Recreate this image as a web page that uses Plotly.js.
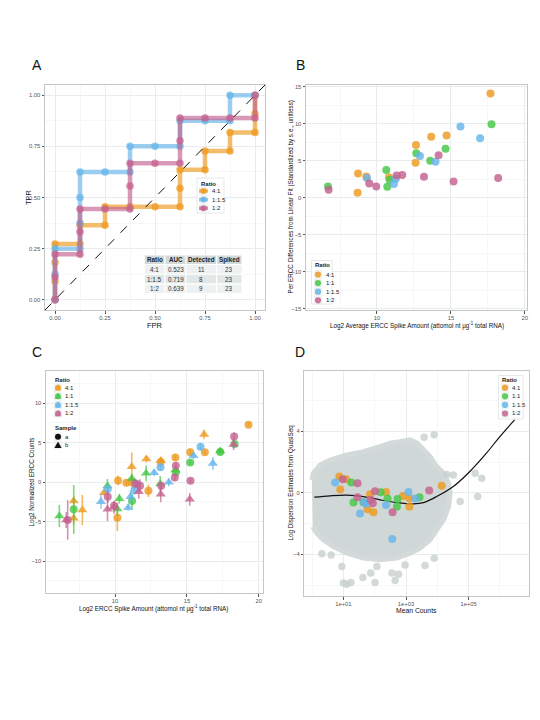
<!DOCTYPE html>
<html><head><meta charset="utf-8">
<script src="https://cdn.plot.ly/plotly-3.0.1.min.js"></script>
<style>html,body{margin:0;padding:0;background:#fff}#chart{width:540px;height:720px}</style>
</head><body><div id="chart"></div>
<script>
// ---------- shared categories / colours ----------
const ratios = ['4:1', '1:1', '1:1.5', '1:2'];
const ratioColors = ['#EE9A1E', '#44C744', '#66B5EA', '#C5628F'];
const samples = ['a', 'b'];

// ---------- Panel A: ROC curves ----------
const rocRatios = ['4:1', '1:1.5', '1:2'];
const roc41FPR = [0,0,0,0,0.125,0.125,0.25,0.25,0.375,0.5,0.625,0.625,0.625,0.75,0.75,0.875,0.875,1,1,1];
const roc41TPR = [0,0.091,0.182,0.273,0.273,0.364,0.364,0.455,0.455,0.455,0.455,0.545,0.636,0.636,0.727,0.727,0.818,0.818,0.909,1];
const roc115FPR = [0,0,0,0.125,0.125,0.125,0.125,0.25,0.375,0.375,0.5,0.625,0.625,0.75,0.875,0.875,1];
const roc115TPR = [0,0.125,0.25,0.25,0.375,0.5,0.625,0.625,0.625,0.75,0.75,0.75,0.875,0.875,0.875,1,1];
const roc12FPR = [0,0,0,0.125,0.125,0.125,0.25,0.375,0.375,0.375,0.5,0.625,0.625,0.625,0.75,0.875,1,1];
const roc12TPR = [0,0.111,0.222,0.222,0.333,0.444,0.444,0.444,0.556,0.667,0.667,0.667,0.778,0.889,0.889,0.889,0.889,1];
const tblHeader = ['Ratio', 'AUC', 'Detected', 'Spiked'];
const tblRatio = ['4:1', '1:1.5', '1:2'];
const tblAUC = ['0.523', '0.719', '0.639'];
const tblDetected = [11, 8, 9];
const tblSpiked = [23, 23, 23];

// ---------- Panel B: differences from linear fit ----------
const b41X = [8.72, 8.69, 9.28, 10.81, 12.64, 12.61, 13.67, 14.71, 17.68];
const b41Y = [3.27, 0.67, 2.87, 2.74, 7.09, 4.71, 8.21, 8.39, 14.04];
const b11X = [6.69, 10.63, 10.70, 10.86, 12.66, 13.60, 14.64, 17.75];
const b11Y = [1.52, 3.72, 1.48, 2.42, 6.01, 4.98, 6.59, 9.91];
const b115X = [9.32, 11.15, 11.28, 12.91, 13.96, 15.65, 16.98];
const b115Y = [2.65, 1.84, 2.56, 5.61, 4.84, 9.60, 8.03];
const b12X = [6.73, 9.48, 9.95, 11.33, 11.71, 13.18, 14.17, 15.18, 18.20];
const b12Y = [1.08, 1.93, 1.52, 3.00, 3.05, 2.83, 5.74, 2.20, 2.65];

// ---------- Panel C: normalized counts vs spike amount ----------
const c41aX = [10.21, 10.16, 10.79, 11.16, 12.32, 13.18, 14.20, 15.23, 16.25, 19.29];
const c41aY = [0.21, -4.51, -0.08, -0.04, -1.10, 2.53, 3.12, 3.76, 3.76, 7.26];
const c41aE = [0.6, 1.7, 0.4, 0.8, 0.8, 0.5, 0.4, 0.5, 0.3, 0.3];
const c41bX = [7.12, 7.12, 7.72, 9.23, 11.16, 12.18, 13.18, 16.20];
const c41bY = [-2.40, -4.60, -3.54, -1.35, 1.94, 2.91, 2.70, 6.03];
const c41bE = [0.6, 0.8, 1.9, 0.4, 1.8, 0.4, 0.5, 0.6];
const c11aX = [7.12, 11.18, 14.23, 15.23, 17.32, 18.32];
const c11aY = [-3.46, -2.41, 1.22, 2.49, 3.80, 4.81];
const c11aE = [3.1, 1.0, 0.5, 0.3, 0.3, 0.3];
const c11bX = [6.12, 9.47, 10.16, 10.30, 11.16, 12.16, 13.14, 14.20, 17.32];
const c11bY = [-4.30, -0.51, -3.42, -2.11, 0.46, 1.10, -0.25, 1.52, 3.92];
const c11bE = [1.4, 0.9, 0.8, 0.6, 0.6, 1.0, 1.0, 0.5, 0.4];
const c115aX = [9.49, 11.35, 11.51, 13.16, 15.95];
const c115aY = [-0.89, -1.01, -0.25, 1.86, 4.47];
const c115aE = [0.4, 0.6, 0.5, 0.4, 0.4];
const c115bX = [9.02, 10.91, 11.07, 12.72, 13.74, 15.46, 16.81];
const c115bY = [-2.49, -3.25, -1.86, 1.18, -0.04, 3.33, 2.36];
const c115bE = [0.9, 0.4, 0.8, 0.4, 0.5, 0.4, 0.8];
const c12aX = [6.70, 9.49, 9.93, 11.42, 11.74, 13.21, 14.16, 14.23, 15.25, 18.29];
const c12aY = [-4.81, -1.86, -3.00, -0.17, -0.46, -0.46, 0.59, 2.07, 0.17, 5.78];
const c12aE = [2.5, 0.8, 0.6, 0.6, 0.8, 0.5, 0.4, 0.4, 0.3, 0.5];
const c12bX = [6.60, 9.47, 9.93, 11.65, 13.18, 15.20, 18.25];
const c12bY = [-4.81, -3.46, -3.20, -1.22, -1.56, -2.19, 4.77];
const c12bE = [1.0, 1.5, 0.8, 0.9, 1.0, 0.8, 0.7];

// ---------- Panel D: dispersion vs mean counts (x = log10 mean counts) ----------
const dTickVals = [1, 3, 5];
const dTickText = ['1e+01', '1e+03', '1e+05'];
const cloudX = [-0.01,0.04,0.26,0.57,1.11,1.64,2.17,2.49,2.81,3.13,3.35,3.56,3.77,3.98,4.20,4.36,4.41,4.36,4.20,3.98,3.77,3.45,3.13,2.70,2.17,1.64,1.11,0.68,0.36,0.15,0.02];
const cloudY = [0.84,1.28,1.82,2.14,2.47,2.68,3.01,3.23,3.33,3.44,3.23,2.79,2.36,1.71,1.28,0.63,-0.02,-0.89,-1.75,-2.40,-3.05,-3.59,-3.92,-4.24,-4.35,-4.24,-3.92,-3.49,-3.05,-2.62,-2.19];
const outlierX = [3.58,3.90,5.21,5.42,5.29,4.73,4.51,0.31,0.61,0.95,1.00,1.11,1.24,1.62,1.87,2.01,2.07,2.55,2.65,2.76,2.97,3.61,3.90,4.30];
const outlierY = [3.61,3.77,1.28,0.95,-0.24,-0.56,1.17,-3.96,-4.03,-4.78,-5.86,-5.93,-5.82,-5.50,-5.20,-5.82,-4.78,-5.20,-5.70,-5.28,-4.68,-4.72,-4.24,1.20];
const fitX = [0.07,0.575,1.11,1.64,2.17,2.71,3.24,3.56,3.98,4.51,5.04,5.57,6.00,6.47];
const fitY = [-0.28,-0.19,-0.15,-0.24,-0.45,-0.63,-0.71,-0.63,-0.24,0.41,1.39,2.58,3.66,4.74];
const d41X = [0.87,1.09,0.90,1.77,1.96,1.85,2.36,2.90,3.11,3.11,4.14];
const d41Y = [1.06,0.89,0.22,-1.06,-1.25,-0.09,0.06,-0.21,-0.35,-0.89,0.47];
const d11X = [1.25,1.32,1.64,2.19,2.41,2.73,2.71,3.43];
const d11Y = [0.67,-0.63,-0.61,0.04,-0.37,-0.39,-0.89,-0.28];
const d115X = [0.735,1.66,1.53,1.72,2.36,3.08,3.30,2.56];
const d115Y = [0.67,-0.61,-1.34,-0.71,-0.78,0.06,-0.37,-2.99];
const d12X = [0.98,1.45,1.45,1.87,1.94,2.01,2.57,3.74];
const d12Y = [0.89,0.63,-0.28,-0.45,-0.67,0.11,-1.25,0.15];

// ---------- helpers ----------
const W = 540, H = 720;
const FONT = 'Liberation Sans, Arial, sans-serif';
const px = v => v / W;
const py = v => 1 - v / H;
function rgba(hex, a) {
  const n = parseInt(hex.slice(1), 16);
  return `rgba(${(n >> 16) & 255},${(n >> 8) & 255},${n & 255},${a})`;
}
function colorOf(r) { return ratioColors[ratios.indexOf(r)]; }

function axis(domain, range, tickvals, ticktext, minorVals, anchor) {
  return {
    domain, range, anchor, tickmode: 'array', tickvals, ticktext,
    showgrid: true, gridcolor: '#e9ecec', gridwidth: 1, zeroline: false,
    showline: true, mirror: true, linecolor: '#c2c8c8', linewidth: 1,
    ticks: 'outside', ticklen: 2.5, tickcolor: '#555', tickwidth: 1,
    tickfont: { family: FONT, size: 5.8, color: '#555' },
    minor: { tickvals: minorVals, showgrid: true, gridcolor: '#f4f6f6', gridwidth: 0.8, ticks: '' },
    fixedrange: true
  };
}

const traces = [];
const shapes = [];
const annotations = [];

// ---------- Panel A traces ----------
const rocData = { '4:1': [roc41FPR, roc41TPR], '1:1.5': [roc115FPR, roc115TPR], '1:2': [roc12FPR, roc12TPR] };
rocRatios.forEach(r => {
  traces.push({
    type: 'scatter', mode: 'lines+markers', xaxis: 'x', yaxis: 'y',
    x: rocData[r][0], y: rocData[r][1], showlegend: false, hoverinfo: 'skip',
    line: { color: rgba(colorOf(r), 0.65), width: 4.5 },
    marker: { color: rgba(colorOf(r), 0.75), size: 7.5, line: { width: 0 } }
  });
});
// diagonal reference line
shapes.push({ type: 'line', xref: 'x', yref: 'y', x0: -0.05, y0: -0.05, x1: 1.05, y1: 1.05,
  line: { color: '#111', width: 1, dash: 'dash' } });

// summary table drawn as layout cells
const tblColEdges = [144.3, 165, 186, 216.7, 242];
const tblRowEdges = [255, 264.5, 274.3, 284, 293.5];
const tblCols = [tblRatio, tblAUC, tblDetected, tblSpiked];
const rowFill = ['#eef1f1', '#e1e6e6', '#eef1f1'];
for (let c = 0; c < tblHeader.length; c++) {
  const x0 = tblColEdges[c], x1 = tblColEdges[c + 1];
  for (let r = 0; r <= tblRatio.length; r++) {
    const y0 = tblRowEdges[r], y1 = tblRowEdges[r + 1];
    shapes.push({ type: 'rect', xref: 'paper', yref: 'paper', x0: px(x0), x1: px(x1), y0: py(y1), y1: py(y0),
      fillcolor: r === 0 ? '#d3d9d9' : rowFill[r - 1], line: { color: '#ffffff', width: 1 }, layer: 'above' });
    const txt = r === 0 ? '<b>' + tblHeader[c] + '</b>' : String(tblCols[c][r - 1]);
    annotations.push({ xref: 'paper', yref: 'paper', x: px((x0 + x1) / 2), y: py((y0 + y1) / 2),
      xanchor: 'center', yanchor: 'middle', text: txt, showarrow: false,
      font: { family: FONT, size: 6.3, color: r === 0 ? '#222' : '#333' } });
  }
}

// ---------- Panel B traces ----------
const bData = [[b41X, b41Y], [b11X, b11Y], [b115X, b115Y], [b12X, b12Y]];
ratios.forEach((r, i) => {
  traces.push({
    type: 'scatter', mode: 'markers', xaxis: 'x2', yaxis: 'y2', x: bData[i][0], y: bData[i][1],
    showlegend: false, hoverinfo: 'skip',
    marker: { color: rgba(ratioColors[i], 0.82), size: 8, line: { width: 0 } }
  });
});

// ---------- Panel C traces ----------
const cData = [
  [[c41aX, c41aY, c41aE], [c41bX, c41bY, c41bE]],
  [[c11aX, c11aY, c11aE], [c11bX, c11bY, c11bE]],
  [[c115aX, c115aY, c115aE], [c115bX, c115bY, c115bE]],
  [[c12aX, c12aY, c12aE], [c12bX, c12bY, c12bE]]
];
ratios.forEach((r, i) => {
  samples.forEach((s, j) => {
    const d = cData[i][j];
    traces.push({
      type: 'scatter', mode: 'markers', xaxis: 'x3', yaxis: 'y3', x: d[0], y: d[1],
      showlegend: false, hoverinfo: 'skip',
      error_y: { type: 'data', array: d[2], visible: true, width: 0, thickness: 1.6, color: rgba(ratioColors[i], 0.7) },
      marker: { color: rgba(ratioColors[i], 0.8), size: j === 0 ? 8 : 9,
        symbol: j === 0 ? 'circle' : 'triangle-up', line: { width: 0 } }
    });
  });
});

// ---------- Panel D traces ----------
traces.push({
  type: 'scatter', mode: 'lines', xaxis: 'x4', yaxis: 'y4', x: cloudX, y: cloudY,
  fill: 'toself', fillcolor: 'rgb(208,215,215)', showlegend: false, hoverinfo: 'skip',
  line: { color: 'rgb(212,218,218)', width: 5 }
});
traces.push({
  type: 'scatter', mode: 'markers', xaxis: 'x4', yaxis: 'y4', x: outlierX, y: outlierY,
  showlegend: false, hoverinfo: 'skip',
  marker: { color: 'rgba(200,208,208,0.8)', size: 7.5, line: { width: 0 } }
});
traces.push({
  type: 'scatter', mode: 'lines', xaxis: 'x4', yaxis: 'y4', x: fitX, y: fitY,
  showlegend: false, hoverinfo: 'skip',
  line: { color: '#111', width: 1.2, shape: 'spline', smoothing: 1 }
});
const dData = [[d41X, d41Y], [d11X, d11Y], [d115X, d115Y], [d12X, d12Y]];
ratios.forEach((r, i) => {
  traces.push({
    type: 'scatter', mode: 'markers', xaxis: 'x4', yaxis: 'y4', x: dData[i][0], y: dData[i][1],
    showlegend: false, hoverinfo: 'skip',
    marker: { color: rgba(ratioColors[i], 0.82), size: 8, line: { width: 0 } }
  });
});

// ---------- manual legends (ggplot style compact keys) ----------
function keyBox(cx, cy) {
  shapes.push({ type: 'rect', xref: 'paper', yref: 'paper', xsizemode: 'pixel', ysizemode: 'pixel',
    xanchor: px(cx), yanchor: py(cy), x0: -4.2, x1: 4.2, y0: -4.2, y1: 4.2,
    fillcolor: '#f1f3f3', line: { width: 0 }, layer: 'above' });
}
function keyCircle(cx, cy, col, r) {
  shapes.push({ type: 'circle', xref: 'paper', yref: 'paper', xsizemode: 'pixel', ysizemode: 'pixel',
    xanchor: px(cx), yanchor: py(cy), x0: -r, x1: r, y0: -r, y1: r,
    fillcolor: col, line: { width: 0 }, layer: 'above' });
}
function keyTriangle(cx, cy, col) {
  shapes.push({ type: 'path', xref: 'paper', yref: 'paper', xsizemode: 'pixel', ysizemode: 'pixel',
    xanchor: px(cx), yanchor: py(cy), path: 'M-3.6,-2.8 L3.6,-2.8 L0,3.6 Z',
    fillcolor: col, line: { width: 0 }, layer: 'above' });
}
function keyLine(cx, cy, col) {
  shapes.push({ type: 'line', xref: 'paper', yref: 'paper', xsizemode: 'pixel', ysizemode: 'pixel',
    xanchor: px(cx), yanchor: py(cy), x0: -4.5, x1: 4.5, y0: 0, y1: 0,
    line: { color: col, width: 3.5 }, layer: 'above' });
}
function legText(x, y, t, bold) {
  annotations.push({ xref: 'paper', yref: 'paper', x: px(x), y: py(y), xanchor: 'left', yanchor: 'middle',
    text: bold ? '<b>' + t + '</b>' : t, showarrow: false,
    font: { family: FONT, size: 6, color: '#222' } });
}
function legBox(x0, y0, x1, y1) {
  shapes.push({ type: 'rect', xref: 'paper', yref: 'paper', x0: px(x0), x1: px(x1), y0: py(y1), y1: py(y0),
    fillcolor: '#ffffff', line: { color: '#dfe3e3', width: 0.8 }, layer: 'above' });
}

// Legend A
legBox(197, 178, 224, 213);
legText(198.5, 183.5, 'Ratio', true);
rocRatios.forEach((r, i) => {
  const y = 191 + i * 8.6;
  keyBox(203.5, y);
  keyLine(203.5, y, rgba(colorOf(r), 0.7));
  keyCircle(203.5, y, rgba(colorOf(r), 0.85), 3);
  legText(209.5, y, r, false);
});
// Legend B
legBox(311.5, 260.5, 332, 304);
legText(312.5, 265, 'Ratio', true);
ratios.forEach((r, i) => {
  const y = 274.5 + i * 8.6;
  keyBox(318, y);
  keyCircle(318, y, rgba(ratioColors[i], 0.85), 3.1);
  legText(324, y, r, false);
});
// Legend C (Ratio)
legText(52.5, 379.5, 'Ratio', true);
ratios.forEach((r, i) => {
  const y = 387.7 + i * 8.6;
  keyBox(58, y);
  keyCircle(58, y, rgba(ratioColors[i], 0.8), 3);
  keyTriangle(58, y, rgba(ratioColors[i], 0.6));
  legText(62.5, y, r, false);
});
// Legend C (Sample)
legText(53, 428.3, 'Sample', true);
samples.forEach((s, j) => {
  const y = 436.7 + j * 8.4;
  keyBox(58, y);
  if (j === 0) keyCircle(58, y, '#111', 3); else keyTriangle(58, y, '#111');
  legText(62.5, y, s, false);
});
// Legend D
legBox(498.5, 375.5, 523, 419);
legText(500, 379.5, 'Ratio', true);
ratios.forEach((r, i) => {
  const y = 387.7 + i * 8.6;
  keyBox(505, y);
  keyCircle(505, y, rgba(ratioColors[i], 0.85), 3.1);
  legText(509.5, y, r, false);
});

// ---------- panel letters & axis titles ----------
function label(x, y, t, size, angle) {
  annotations.push({ xref: 'paper', yref: 'paper', x: px(x), y: py(y), xanchor: 'center', yanchor: 'middle',
    text: t, showarrow: false, textangle: angle || 0, font: { family: FONT, size, color: '#111' } });
}
label(37, 65, 'A', 14);
label(300, 65, 'B', 14);
label(37, 352, 'C', 14);
label(300, 352, 'D', 14);
label(155, 325.5, 'FPR', 7.5);
label(28.5, 197.5, 'TPR', 7.5, -90);
label(416.5, 326, 'Log2 Average ERCC Spike Amount (attomol nt µg<sup>-1</sup> total RNA)', 6.3);
label(290, 197.5, 'Per ERCC Differences from Linear Fit (Standardized by s.e., unitless)', 6.3, -90);
label(153, 608.5, 'Log2 ERCC Spike Amount (attomol nt µg<sup>-1</sup> total RNA)', 6.3);
label(31.5, 482, 'Log2 Normalized ERCC Counts', 6.3, -90);
label(416, 610, 'Mean Counts', 6.8);
label(290.5, 483, 'Log Dispersion Estimates from QuasiSeq', 6.3, -90);

// ---------- layout ----------
const layout = {
  width: W, height: H, margin: { l: 0, r: 0, t: 0, b: 0 },
  paper_bgcolor: '#ffffff', plot_bgcolor: '#ffffff', showlegend: false,
  font: { family: FONT, size: 6, color: '#333' },
  xaxis: axis([px(45), px(265)], [-0.05, 1.05], [0, 0.25, 0.5, 0.75, 1], ['0.00', '0.25', '0.50', '0.75', '1.00'], [0.125, 0.375, 0.625, 0.875], 'y'),
  yaxis: axis([py(310), py(85)], [-0.05, 1.05], [0, 0.25, 0.5, 0.75, 1], ['0.00', '0.25', '0.50', '0.75', '1.00'], [0.125, 0.375, 0.625, 0.875], 'x'),
  xaxis2: axis([px(306), px(527)], [5.2, 20.15], [10, 15, 20], ['10', '15', '20'], [7.5, 12.5, 17.5], 'y2'),
  yaxis2: axis([py(310), py(85)], [-15.15, 15.2], [-15, -10, -5, 0, 5, 10, 15], ['−15', '−10', '−5', '0', '5', '10', '15'], [-12.5, -7.5, -2.5, 2.5, 7.5, 12.5], 'x2'),
  xaxis3: axis([px(46), px(263)], [5.19, 20.3], [10, 15, 20], ['10', '15', '20'], [7.5, 12.5, 17.5], 'y3'),
  yaxis3: axis([py(593), py(370.7)], [-14.05, 14.1], [-10, -5, 0, 5, 10], ['−10', '−5', '0', '5', '10'], [-12.5, -7.5, -2.5, 2.5, 7.5, 12.5], 'x3'),
  xaxis4: axis([px(304.3), px(529)], [-0.25, 6.93], dTickVals, dTickText, [0, 2, 4, 6], 'y4'),
  yaxis4: axis([py(596), py(370.7)], [-6.7, 7.94], [-4, 0, 4], ['−4', '0', '4'], [-6, -2, 2, 6], 'x4'),
  shapes, annotations
};

Plotly.newPlot('chart', traces, layout, { staticPlot: true, displayModeBar: false });
</script>
</body></html>
